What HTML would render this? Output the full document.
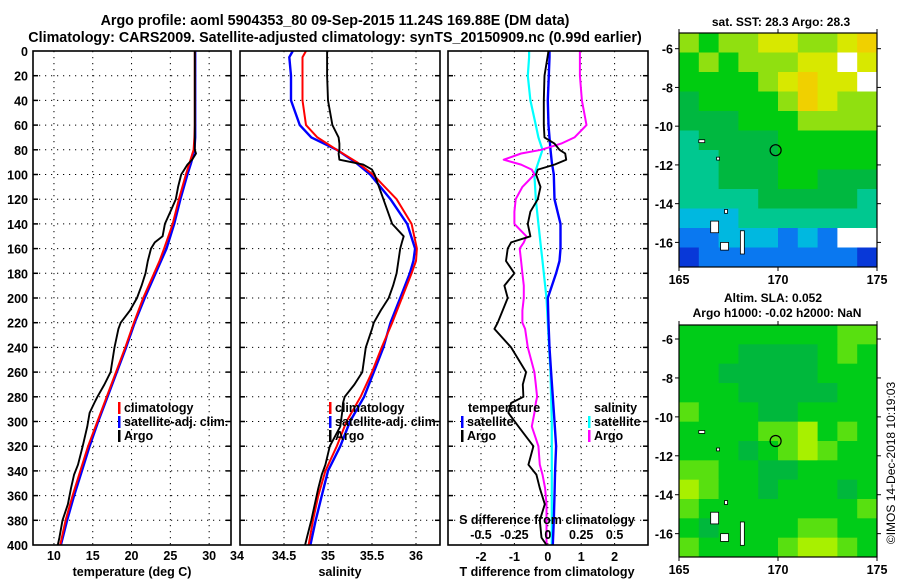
<!DOCTYPE html>
<html><head><meta charset="utf-8"><style>
body{margin:0;background:#fff}
svg{display:block;font-family:"Liberation Sans",Arial,sans-serif;font-weight:bold}
</style></head><body>
<svg id="c" width="900" height="580" viewBox="0 0 900 580" xmlns="http://www.w3.org/2000/svg">
<rect width="900" height="580" fill="#fff"/>
<text x="335" y="25" font-size="14.3" text-anchor="middle">Argo profile: aoml 5904353_80 09-Sep-2015 11.24S 169.88E (DM data)</text>
<text x="335" y="42" font-size="14.3" text-anchor="middle">Climatology: CARS2009. Satellite-adjusted climatology: synTS_20150909.nc (0.99d earlier)</text>
<g id="g"></g>
</svg>
<script>
const depths=[0,5,20,40,60,70,80,90,100,120,140,160,170,180,200,220,240,260,280,300,320,340,360,380,400];
const tempClim=[28.15,28.15,28.15,28.15,28.15,28.1,28.0,27.5,27.0,26.1,25.3,24.2,23.6,22.9,21.5,20.3,19.2,18.0,16.8,15.6,14.4,13.4,12.4,11.5,10.8];
const tempSat=[28.2,28.2,28.2,28.2,28.2,28.2,28.1,27.7,27.2,26.3,25.5,24.5,23.8,23.1,21.7,20.4,19.3,18.1,16.9,15.7,14.6,13.6,12.6,11.7,10.9];
const sClim=[34.75,34.71,34.71,34.71,34.75,34.88,35.1,35.33,35.51,35.78,35.95,36.01,36.0,35.95,35.84,35.73,35.61,35.5,35.37,35.21,35.1,34.97,34.89,34.83,34.78];
const sSat=[34.6,34.56,34.58,34.58,34.68,34.81,35.1,35.31,35.48,35.71,35.9,35.99,35.97,35.93,35.82,35.71,35.63,35.52,35.41,35.25,35.14,35.0,34.93,34.86,34.8];
const argoDepths=[0,20,40,60,70,75,80,83,88,92,96,100,110,120,130,140,150,155,160,170,180,190,200,210,220,225,240,260,270,280,285,293,304,320,335,343,354,367,380,394,400];
const tempArgo=[28.15,28.15,28.15,28.15,28.15,28.15,28.15,28.3,27.8,27.2,26.8,26.4,26.0,25.7,25.0,24.3,24.0,23.0,22.5,22.1,21.8,21.3,20.7,19.8,18.6,18.3,17.8,17.3,16.5,15.6,15.2,14.6,14.3,13.7,13.1,12.6,12.2,11.8,11.1,10.7,10.5];
const sArgo=[34.99,34.99,35.0,35.05,35.12,35.13,35.13,35.12,35.13,35.4,35.5,35.53,35.58,35.63,35.68,35.73,35.86,35.84,35.82,35.8,35.78,35.74,35.69,35.6,35.52,35.5,35.43,35.39,35.3,35.19,35.17,35.16,35.14,35.02,34.97,34.93,34.89,34.85,34.81,34.76,34.74];
const tDiffSat=[0.05,0.05,0.03,0.0,0.02,0.05,0.08,0.12,0.18,0.2,0.38,0.38,0.35,0.25,0.0,0.02,0.05,0.1,0.15,0.2,0.25,0.22,0.2,0.18,0.15];
const sDiffSat=[-0.14,-0.14,-0.15,-0.13,-0.09,-0.07,-0.04,-0.07,-0.1,-0.09,-0.07,-0.05,-0.04,-0.03,-0.01,0.0,0.01,0.02,0.025,0.03,0.03,0.03,0.03,0.03,0.03];
const tDiffArgo=[0.02,-0.1,-0.12,-0.12,-0.1,0.2,0.35,0.52,0.55,0.2,-0.3,-0.35,-0.22,-0.3,-0.52,-0.6,-0.52,-1.1,-1.2,-1.25,-1.0,-1.3,-1.2,-1.35,-1.5,-1.6,-1.1,-0.65,-0.75,-0.73,-1.1,-1.18,-0.88,-0.43,-0.58,-0.34,-0.24,-0.09,-0.24,-0.19,-0.04];
const sDiffArgo=[0.24,0.24,0.255,0.29,0.2,0.1,-0.05,-0.2,-0.33,-0.2,-0.12,-0.1,-0.19,-0.24,-0.25,-0.25,-0.16,-0.18,-0.21,-0.2,-0.19,-0.18,-0.18,-0.19,-0.19,-0.17,-0.15,-0.1,-0.09,-0.08,-0.09,-0.1,-0.12,-0.07,-0.06,-0.04,-0.02,-0.01,-0.01,-0.01,-0.01];
const depthTicks=[0,20,40,60,80,100,120,140,160,180,200,220,240,260,280,300,320,340,360,380,400];
const tempTicks=[10,15,20,25,30];
const salTicks=[34,34.5,35,35.5,36];
const tdTicks=[-2,-1,0,1,2];
const sdTicks=[-0.5,-0.25,0,0.25,0.5];
const sdTickLabels=["-0.5","-0.25","0","0.25","0.5"];
const latTicks=[-6,-8,-10,-12,-14,-16];
const lonTicks=[165,170,175];
const sstGrid=["6566776678","5656667797","5555678779","4555568766","4445556666","3444455555",
"3344455555","3344455444","3333444443","2223333333","1122212199","0111111110"];
const slaGrid=["1111111122","1110000121","1100000111","1110000011","2111001111","1111223121",
"1110123211","2211001111","3211011101","2111111112","1011112211","2111123321"];
const argoLon=169.88, argoLat=-11.24;

const NS="http://www.w3.org/2000/svg";
const G=document.getElementById('g');
function mk(tag,attrs,parent){const e=document.createElementNS(NS,tag);for(const k in attrs)e.setAttribute(k,attrs[k]);(parent||G).appendChild(e);return e;}
const yD=d=>51+d*1.235;
const xT=t=>33+(t-7.3)*7.76;
const xS=s=>240+(s-34)*88;
const xTD=t=>547.8+t*33.4;
const xSD=s=>547.8+s*133.6;
const panels=[{x0:33,x1:231,name:'temperature-panel'},{x0:240,x1:440,name:'salinity-panel'},{x0:448,x1:648,name:'difference-panel'}];
function frame(p,vx){
  const g=mk('g',{});
  
  
  depthTicks.forEach(d=>{if(d>0&&d<400){const y=yD(d);mk('line',{x1:p.x0,x2:p.x1,y1:y,y2:y,stroke:'#000','stroke-width':1,'stroke-dasharray':'1.2,4.8'},g);
    mk('line',{x1:p.x0,x2:p.x0+5,y1:y,y2:y,stroke:'#000','stroke-width':1.5},g);mk('line',{x1:p.x1-5,x2:p.x1,y1:y,y2:y,stroke:'#000','stroke-width':1.5},g);}});
  vx.forEach(x=>{if(x>p.x0+1&&x<p.x1-1){mk('line',{x1:x,x2:x,y1:yD(0),y2:yD(400),stroke:'#000','stroke-width':1,'stroke-dasharray':'1.2,4.8'},g);}});
  return g;
}
function border(p){mk('rect',{x:p.x0,y:yD(0),width:p.x1-p.x0,height:yD(400)-yD(0),fill:'none',stroke:'#000','stroke-width':1.6});}
function line(xs,ys,xf,color,w,name){
  const pts=xs.map((v,i)=>xf(v).toFixed(1)+','+yD(ys[i]).toFixed(1)).join(' ');
  const e=mk('polyline',{points:pts,fill:'none',stroke:color,'stroke-width':w,'stroke-linejoin':'round'});
  
  
}
function txt(x,y,s,opts){const e=mk('text',Object.assign({x:x,y:y,'font-size':12},opts||{}));e.textContent=s;return e;}

frame(panels[0],tempTicks.map(xT));
line(tempSat,depths,xT,'#0000ff',2.4,'temp-satellite-line');
line(tempClim,depths,xT,'#ff0000',2,'temp-climatology-line');
line(tempArgo,argoDepths,xT,'#000',1.9,'temp-argo-line');
border(panels[0]);
depthTicks.forEach(d=>{const e=txt(28,yD(d)+5,String(d),{'text-anchor':'end','font-size':12.5});});
tempTicks.forEach(t=>{const e=txt(xT(t),560,String(t),{'text-anchor':'middle','font-size':12.5});});
{const e=txt(132,576,'temperature (deg C)',{'text-anchor':'middle','font-size':12.5});}

frame(panels[1],salTicks.map(xS));
line(sSat,depths,xS,'#0000ff',2.4,'sal-satellite-line');
line(sClim,depths,xS,'#ff0000',2,'sal-climatology-line');
line(sArgo,argoDepths,xS,'#000',1.9,'sal-argo-line');
border(panels[1]);
salTicks.forEach(t=>{const e=txt(xS(t)-(t===34?3:0),560,String(t),{'text-anchor':'middle','font-size':12.5});});
{const e=txt(340,576,'salinity',{'text-anchor':'middle','font-size':12.5});}

frame(panels[2],tdTicks.map(xTD));
line(sDiffSat,depths,xSD,'#00ffff',2.2,'sdiff-satellite-line');
line(tDiffSat,depths,xTD,'#0000ff',2.4,'tdiff-satellite-line');
line(sDiffArgo,argoDepths,xSD,'#ff00ff',2,'sdiff-argo-line');
line(tDiffArgo,argoDepths,xTD,'#000',1.9,'tdiff-argo-line');
border(panels[2]);
tdTicks.forEach(t=>{const e=txt(xTD(t),561,String(t),{'text-anchor':'middle','font-size':12.5});});
sdTicks.forEach((t,i)=>{const e=txt(xSD(t),539,sdTickLabels[i],{'text-anchor':'middle','font-size':12.5});});
{const e=txt(547,524,'S difference from climatology',{'text-anchor':'middle','font-size':12.5});}
{const e=txt(547,576,'T difference from climatology',{'text-anchor':'middle','font-size':12.5});}

function legend(x,y,color,label,name){mk('rect',{x:x,y:y-10,width:2.5,height:12,fill:color});const e=txt(x+6,y,label,{'font-size':12.5});}
legend(118,412,'#ff0000','climatology','legend-climatology');
legend(118,426,'#0000ff','satellite-adj. clim.','legend-satellite-adj');
legend(118,440,'#000','Argo','legend-argo');
legend(329,412,'#ff0000','climatology','legend2-climatology');
legend(329,426,'#0000ff','satellite-adj. clim.','legend2-satellite-adj');
legend(329,440,'#000','Argo','legend2-argo');
{const e=txt(468,412,'temperature',{'font-size':12.5});}
legend(461,426,'#0000ff','satellite','legend-t-satellite');
legend(461,440,'#000','Argo','legend-t-argo');
{const e=txt(594,412,'salinity',{'font-size':12.5});}
legend(588,426,'#00ffff','satellite','legend-s-satellite');
legend(588,440,'#ff00ff','Argo','legend-s-argo');

const sstPal={'0':'#0838d8','1':'#0a78f0','2':'#00b8e0','3':'#00c890','4':'#00b840','5':'#00cc10','6':'#90e010','7':'#d8e800','8':'#f0d000','9':'#ffffff'};
const slaPal={'0':'#00b83c','1':'#00cc18','2':'#58e010','3':'#a8f000'};
function map(top,bot,latTop,latBot,grid,pal,name){
  const x0=679,x1=877;
  const lx=l=>x0+(l-165)*(x1-x0)/10;
  const ly=l=>top+(latTop-l)*(bot-top)/(latTop-latBot);
  const g=mk('g',{});
  
  
  const rows=grid.length,cols=grid[0].length;
  const ch=(bot-top)/rows,cw=(x1-x0)/cols;
  grid.forEach((r,i)=>{for(let j=0;j<cols;j++){const c=mk('rect',{x:x0+j*cw,y:top+i*ch,width:cw+0.5,height:ch+0.5,fill:pal[r[j]]},g);}});
  const isl=[[166.6,-14.9,167.0,-15.5],[167.1,-16.0,167.5,-16.4],[168.1,-15.4,168.3,-16.6],[166.0,-10.7,166.3,-10.85],[167.3,-14.3,167.45,-14.5],[166.9,-11.6,167.05,-11.75]];
  isl.forEach(b=>mk('rect',{x:lx(b[0]),y:ly(b[1]),width:lx(b[2])-lx(b[0]),height:ly(b[3])-ly(b[1]),fill:'#fff',stroke:'#000','stroke-width':0.8},g));
  const c=mk('circle',{cx:lx(argoLon),cy:ly(argoLat),r:5.5,fill:'none',stroke:'#000','stroke-width':1.2},g);
  
  
  mk('rect',{x:x0,y:top,width:x1-x0,height:bot-top,fill:'none',stroke:'#000','stroke-width':1.2},g);
  latTicks.forEach(l=>{const y=ly(l);mk('line',{x1:x0-4,x2:x0,y1:y,y2:y,stroke:'#000'},g);mk('line',{x1:x1,x2:x1+4,y1:y,y2:y,stroke:'#000'},g);
    const e=txt(673,y+5,String(l),{'text-anchor':'end','font-size':12.5});});
  lonTicks.forEach(l=>{const x=lx(l);mk('line',{x1:x,x2:x,y1:bot,y2:bot+4,stroke:'#000'},g);mk('line',{x1:x,x2:x,y1:top-4,y2:top,stroke:'#000'},g);
    const e=txt(x,bot+17,String(l),{'text-anchor':'middle','font-size':12.5});});
}
map(33,267,-5.19,-17.27,sstGrid,sstPal,'sst-map');
map(325,557,-5.28,-17.2,slaGrid,slaPal,'sla-map');
{const e=txt(781,26,'sat. SST: 28.3 Argo: 28.3',{'text-anchor':'middle','font-size':12});}
{const e=txt(773,302,'Altim. SLA: 0.052',{'text-anchor':'middle','font-size':12});}
{const e=txt(777,317,'Argo h1000: -0.02 h2000: NaN',{'text-anchor':'middle','font-size':12});}
{const e=txt(0,0,'©IMOS 14-Dec-2018 10:19:03',{'text-anchor':'middle','font-size':12,'font-weight':'normal',transform:'translate(895,463) rotate(-90)'});}
</script>
</body></html>
